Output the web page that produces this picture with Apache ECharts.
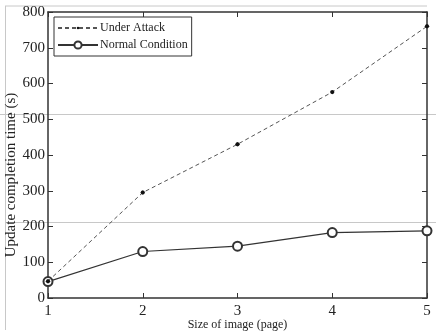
<!DOCTYPE html>
<html>
<head>
<meta charset="utf-8">
<script src="https://cdn.jsdelivr.net/npm/echarts@6/dist/echarts.min.js"></script>
<style>
  html, body { margin: 0; padding: 0; background: #fff; }
  #chart { width: 436px; height: 334px; }
</style>
</head>
<body>
<div id="chart"></div>
<script>
// page sizes on the x axis
const pages = [1, 2, 3, 4, 5]
// update completion time (s)
const underAttack = [47, 295, 430, 576, 760]
const normalCondition = [46, 130, 145, 183, 188]
const yTicks = [0, 100, 200, 300, 400, 500, 600, 700, 800]

const font = 'Liberation Serif'
const ink = '#222'

// small dot centred in a larger empty box, so the legend dot stays small too
const smallDot = 'path://M0,0M12,12M6,3.8L7.5,4.5L8.2,6L7.5,7.5L6,8.2L4.5,7.5L3.8,6L4.5,4.5Z'

const chart = echarts.init(document.getElementById('chart'))

function pairs(ys) {
  return pages.map((p, i) => [p, ys[i]])
}

// box axes (MATLAB style: ticks inside on all four sides)
const baseX = {
  type: 'value',
  min: pages[0],
  max: pages[pages.length - 1],
  interval: 1,
  splitLine: { show: false },
  axisLine: { show: true, onZero: false, lineStyle: { color: '#333', width: 1.5 } },
  axisTick: { show: true, inside: true, length: 5, lineStyle: { color: '#333' } }
}
const baseY = {
  type: 'value',
  min: yTicks[0],
  max: yTicks[yTicks.length - 1],
  interval: 100,
  splitLine: { show: false },
  axisLine: { show: true, onZero: false, lineStyle: { color: '#333', width: 1.5 } },
  axisTick: { show: true, inside: true, length: 5, lineStyle: { color: '#333' } }
}

chart.setOption({
  animation: false,
  backgroundColor: '#fff',
  textStyle: { fontFamily: font },
  grid: { left: 48, right: 9, top: 12, bottom: 36, outerBoundsMode: 'none', containLabel: false },
  legend: {
    left: 54,
    top: 17,
    orient: 'vertical',
    backgroundColor: '#fff',
    borderColor: '#333',
    borderWidth: 1,
    borderRadius: 0,
    padding: [5, 4, 5, 3],
    itemGap: 5,
    itemWidth: 40,
    itemHeight: 9,
    textStyle: { fontFamily: font, fontSize: 12, color: ink, padding: [0, 0, 0, -3] },
    data: ['Under Attack', 'Normal Condition']
  },
  xAxis: [
    Object.assign({}, baseX, {
      position: 'bottom',
      name: 'Size of image (page)',
      nameLocation: 'middle',
      nameGap: 21,
      nameMoveOverlap: false,
      nameTextStyle: { fontFamily: font, fontSize: 12, color: ink },
      axisLabel: { fontFamily: font, fontSize: 15, color: ink, margin: 6 }
    }),
    Object.assign({}, baseX, { position: 'top', axisLabel: { show: false } })
  ],
  yAxis: [
    Object.assign({}, baseY, {
      position: 'left',
      name: 'Update completion time (s)',
      nameLocation: 'middle',
      nameGap: 29,
      nameMoveOverlap: false,
      nameTextStyle: { fontFamily: font, fontSize: 15, color: ink, padding: [0, 40, 0, 0] },
      axisLabel: { fontFamily: font, fontSize: 15, color: ink, margin: 3 }
    }),
    Object.assign({}, baseY, { position: 'right', axisLabel: { show: false } })
  ],
  // faint scan lines across the page
  graphic: [
    { type: 'line', shape: { x1: 5, y1: 6, x2: 427, y2: 6 }, style: { stroke: '#c8c8c8', lineWidth: 1 }, silent: true },
    { type: 'line', shape: { x1: 0, y1: 114.5, x2: 436, y2: 114.5 }, style: { stroke: '#c8c8c8', lineWidth: 1 }, silent: true },
    { type: 'line', shape: { x1: 5, y1: 222.5, x2: 436, y2: 222.5 }, style: { stroke: '#c8c8c8', lineWidth: 1 }, silent: true },
    { type: 'line', shape: { x1: 5.5, y1: 6, x2: 5.5, y2: 330 }, style: { stroke: '#c8c8c8', lineWidth: 1 }, silent: true }
  ],
  series: [
    {
      name: 'Normal Condition',
      type: 'line',
      data: pairs(normalCondition),
      symbol: 'emptyCircle',
      symbolSize: 9,
      showAllSymbol: true,
      color: '#333',
      lineStyle: { color: '#333', width: 1.2, type: 'solid' },
      itemStyle: { color: '#333', borderColor: '#444', borderWidth: 1 },
      z: 2
    },
    {
      name: 'Under Attack',
      type: 'line',
      data: pairs(underAttack),
      symbol: smallDot,
      symbolSize: 12,
      showAllSymbol: true,
      color: '#111',
      lineStyle: { color: '#555', width: 1, type: [4, 3] },
      itemStyle: { color: '#111' },
      z: 3
    }
  ]
})
</script>
</body>
</html>
